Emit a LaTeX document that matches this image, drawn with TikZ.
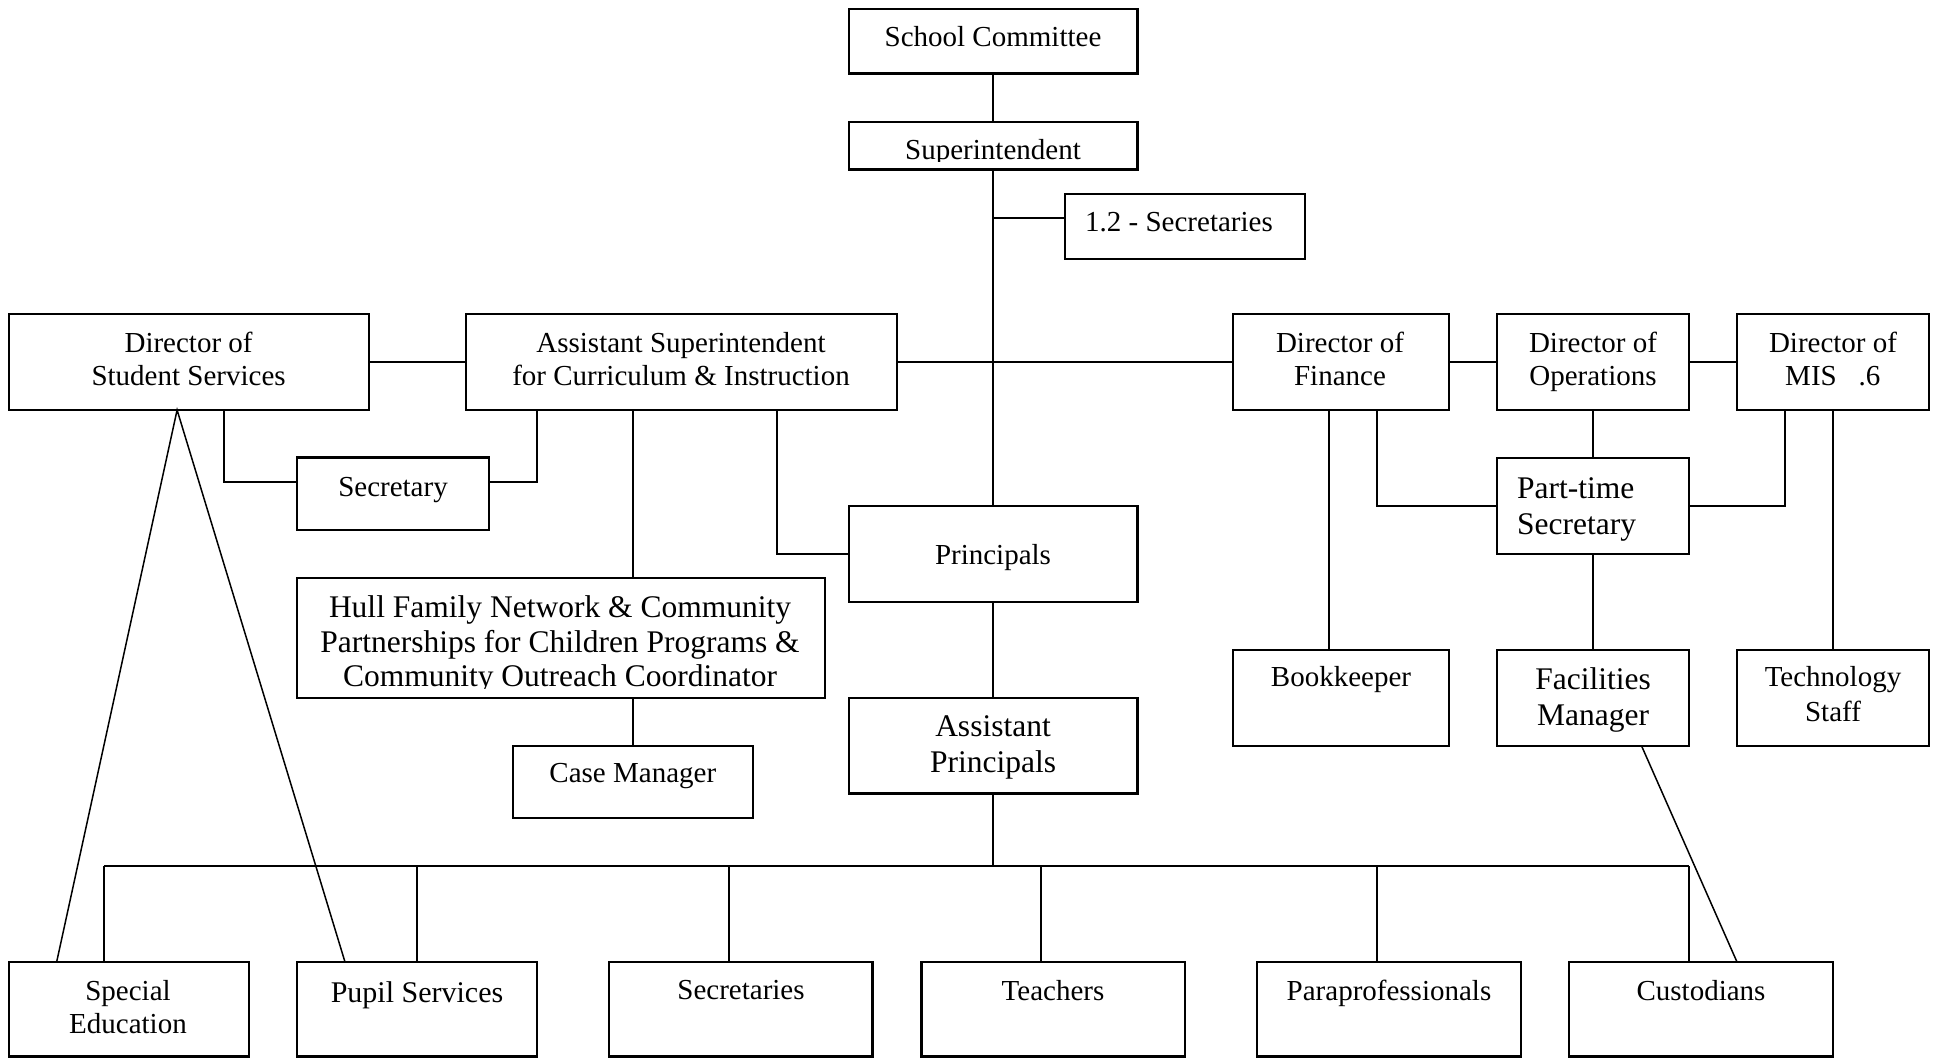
\documentclass[tikz,border=0pt]{standalone}
\usepackage{fontspec}
\setmainfont{Liberation Serif}
\usetikzlibrary{calc}
\tikzset{
  orgbox/.style={draw, line width=2.2pt, inner sep=0pt, outer sep=0pt},
  nt/.style={anchor=base, inner sep=0pt, font=\fontsize{29}{34}\selectfont},
  lt/.style={anchor=base, inner sep=0pt, font=\fontsize{31.5}{37}\selectfont},
  conn/.style={line width=2pt},
  diag/.style={line width=1.5pt}
}
\newcommand\orgbox[5]{\node[orgbox, minimum width={(#4-#2)*1pt}, minimum height={(#5-#3)*1pt}] (#1) at ({(#2+#4)/2},{(#3+#5)/2}) {};}
\newcommand\ntxt[3]{\node[nt] at (#1,#2) {#3};}
\newcommand\ltxt[3]{\node[lt] at (#1,#2) {#3};}
\begin{document}
\begin{tikzpicture}[x=1pt,y=-1pt]
\fill[white] (0,0) rectangle (1933,1058);
\useasboundingbox (0,0) rectangle (1933,1058);
% boxes
\orgbox{sc}{849}{9}{1137.5}{73.5}
\orgbox{sup}{849}{122}{1137.5}{169.5}
\orgbox{sectw}{1065}{193.6}{1305}{259}
\orgbox{dss}{9}{314}{368.6}{410}
\orgbox{asst}{465.6}{314}{896.7}{410}
\orgbox{fin}{1233}{314}{1449}{410}
\orgbox{ops}{1497}{314}{1689}{410}
\orgbox{mis}{1737}{314}{1929}{410}
\orgbox{sec}{296.6}{457.5}{489}{530}
\orgbox{pr}{849}{505.7}{1137.5}{601.7}
\orgbox{pts}{1497}{457.7}{1689}{553.7}
\orgbox{hull}{297}{578}{824.6}{698}
\orgbox{ap}{849}{698}{1137.5}{793.5}
\orgbox{cm}{513}{746}{752.6}{817.7}
\orgbox{bk}{1233}{649.7}{1449}{746}
\orgbox{fac}{1497}{649.7}{1689}{746}
\orgbox{tech}{1737}{649.7}{1929}{746}
\orgbox{spe}{9}{962}{248.7}{1056.5}
\orgbox{pup}{297}{962}{537}{1056.5}
\orgbox{secs}{609}{962}{872.4}{1056.5}
\orgbox{tea}{921.5}{962}{1184.7}{1056.5}
\orgbox{par}{1257}{962}{1521}{1056.5}
\orgbox{cus}{1569}{962}{1833}{1056.5}
% texts
\ntxt{993}{46.5}{School Committee}
\begin{scope}
\clip (849,122) rectangle (1137.5,161);
\ntxt{993}{159.3}{Superintendent}
\end{scope}
\node[nt, anchor=base west] at (1085,231.5) {1.2 - Secretaries};
\ntxt{188.6}{352}{Director of}
\ntxt{188.6}{385.5}{Student Services}
\ntxt{681}{352}{Assistant Superintendent}
\ntxt{681}{385.5}{for Curriculum \& Instruction}
\ntxt{1340}{352}{Director of}
\ntxt{1340}{385.5}{Finance}
\ntxt{1593}{352}{Director of}
\ntxt{1593}{385.5}{Operations}
\ntxt{1833}{352}{Director of}
\node[nt, anchor=base west] at (1785,385.5) {MIS~~~.6};
\ntxt{393}{496}{Secretary}
\ntxt{993}{564}{Principals}
\begin{scope}
\clip (297,578) rectangle (824.6,688);
\ltxt{560}{617.3}{Hull Family Network \& Community}
\ltxt{560}{652.7}{Partnerships for Children Programs \&}
\ltxt{560}{686}{Community Outreach Coordinator}
\end{scope}
\node[lt, anchor=base west] at (1517,498.3) {Part-time};
\node[lt, anchor=base west] at (1517,534.3) {Secretary};
\ntxt{632.8}{782.3}{Case Manager}
\ltxt{993}{736.7}{Assistant}
\ltxt{993}{772.7}{Principals}
\ntxt{1341}{686.7}{Bookkeeper}
\ltxt{1593}{689.3}{Facilities}
\ltxt{1593}{725.7}{Manager}
\ntxt{1833}{686.7}{Technology}
\ntxt{1833}{721}{Staff}
\ntxt{128}{1000}{Special}
\ntxt{128}{1033.3}{Education}
\node[nt, font=\fontsize{30}{35}\selectfont] at (417,1002.7) {Pupil Services};
\ntxt{741}{999.3}{Secretaries}
\ntxt{1053}{1000}{Teachers}
\ntxt{1389}{1000}{Paraprofessionals}
\ntxt{1701}{1000}{Custodians}
% connectors
\draw[conn] (sc.south) -- (sup.north);
\draw[conn] (sup.south) -- (pr.north);
\coordinate (s12) at ([yshift=8pt]sectw.west);
\draw[conn] (s12) -- (sup.south |- s12);
\draw[conn] (dss.east) -- (asst.west);
\draw[conn] (asst.east) -- (fin.west);
\draw[conn] (fin.east) -- (ops.west);
\draw[conn] (ops.east) -- (mis.west);
\coordinate (secl) at ([yshift=12pt]sec.west);
\coordinate (secr) at ([yshift=12pt]sec.east);
\draw[conn] ([xshift=35.5pt]dss.south) |- (secl);
\draw[conn] ([xshift=-144pt]asst.south) |- (secr);
\coordinate (ah) at ([xshift=-48.3pt]asst.south);
\draw[conn] (ah) -- (ah |- hull.north);
\draw[conn] (hull.south -| cm.north) -- (cm.north);
\draw[conn] ([xshift=95.8pt]asst.south) |- (pr.west);
\draw[conn] (pr.south) -- (ap.north);
% bus
\coordinate (bus) at (0,866);
\coordinate (d1) at ([xshift=-24.4pt]spe.north);
\coordinate (d2) at (pup.north);
\coordinate (d3) at ([xshift=-11.7pt]secs.north);
\coordinate (d4) at ([xshift=-12.3pt]tea.north);
\coordinate (d5) at ([xshift=-12pt]par.north);
\coordinate (d6) at ([xshift=-12pt]cus.north);
\draw[conn] (ap.south) -- (ap.south |- bus);
\draw[conn] (d1 |- bus) -- (d6 |- bus);
\foreach \d in {d1,d2,d3,d4,d5,d6} \draw[conn] (\d) -- (\d |- bus);
% triangle from director of student services
\draw[diag] ([xshift=-72.2pt]spe.north) -- ([xshift=-11.7pt]dss.south) -- ([xshift=-72pt]pup.north);
% right side
\coordinate (fb) at ([xshift=-12pt]fin.south);
\draw[conn] (fb) -- (fb |- bk.north);
\draw[conn] ([xshift=35.5pt]fin.south) |- (pts.west);
\draw[conn] (ops.south) -- (pts.north);
\draw[conn] ([xshift=-48pt]mis.south) |- (pts.east);
\draw[conn] (mis.south) -- (tech.north);
\draw[conn] (pts.south) -- (fac.north);
\draw[diag] ([xshift=48.6pt]fac.south) -- ([xshift=36pt]cus.north);
\end{tikzpicture}
\end{document}
